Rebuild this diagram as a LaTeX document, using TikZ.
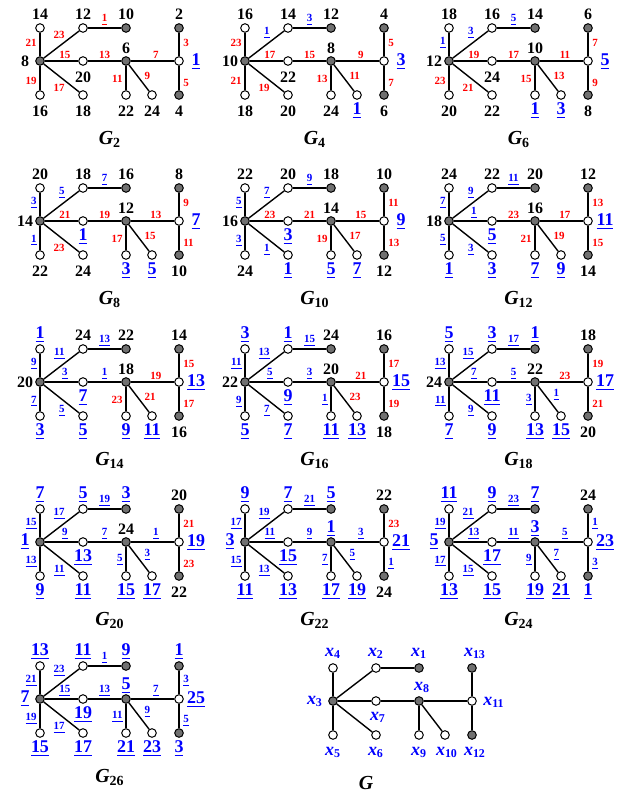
\documentclass[tikz,border=0pt]{standalone}
\usepackage{fontspec}
\setmainfont{Liberation Serif}
\usetikzlibrary{positioning}
\definecolor{lblue}{RGB}{0,0,255}
\definecolor{lred}{RGB}{255,0,0}
\definecolor{vgray}{RGB}{112,112,112}
\tikzset{
  wv/.style={circle, draw=black, fill=white, line width=0.5bp, inner sep=0pt, minimum size=4.3bp},
  gv/.style={wv, fill=vgray},
  ed/.style={line width=0.7bp},
  vl/.style={font=\fontsize{8}{8}\selectfont\bfseries, inner sep=0.6pt},
  el/.style={font=\fontsize{5.5}{5.5}\selectfont\bfseries, inner sep=0.8pt},
  eL/.style={anchor=east, xshift=-0.6pt},
  eR/.style={anchor=west, xshift=1pt},
  eA/.style={anchor=south},
  eAL/.style={anchor=south east},
  eAR/.style={anchor=south west},
  eBL/.style={anchor=north east},
  ttl/.style={font=\fontsize{10}{10}\selectfont\bfseries\itshape},
}
% odd vertex numbers blue and underlined
\newcommand{\vlnum}[1]{\ifodd#1\relax\textcolor{lblue}{\fontsize{9}{9}\selectfont\underline{#1}}\else#1\fi}
% edge numbers below k are underlined
\newcommand{\elnum}[2]{\ifnum#1<#2\relax
  \ifnum#2>2\relax\textcolor{lblue}{\underline{#1}}\else\textcolor{lred}{\underline{#1}}\fi
  \else\textcolor{lred}{#1}\fi}
\newcommand{\glab}[1]{\textcolor{lblue}{\fontsize{9}{9}\selectfont\bfseries\itshape x\textsubscript{\upshape#1}}}
% one labelling G_k, #1 = k, (#2,#3) = position of x3
\newcommand{\gpanel}[3]{%
  \begin{scope}[shift={(#2,#3)}]
    \foreach \v/\px/\py/\b/\st/\lx/\ly in {1/86/-33/10/gv/0/-14, 2/43/-33/12/wv/0/-14,
        3/0/0/8/gv/-15/0, 4/0/-33/14/wv/0/-14, 5/0/34/16/wv/0/16, 6/43/34/18/wv/0/16,
        7/43/0/20/wv/0/16, 8/86/0/6/gv/0/-13, 9/86/34/22/wv/0/16, 10/112/34/24/wv/0/16,
        11/139/0/1/wv/17/1, 12/139/34/4/gv/0/16, 13/139/-33/2/gv/0/-14}{
      \pgfmathtruncatemacro\val{mod(\b+#1-3,25)+1}
      \node[\st] (g#1-\v) at (\px,\py) {};
      \node[vl] (n#1-\v) at ([shift={(\lx,\ly)}]g#1-\v) {\vlnum{\val}};
    }
    \foreach \a/\c/\b/\ps/\sd in {3/4/21/0.58/eL, 3/2/23/0.65/eAL, 2/1/1/0.5/eA,
        3/7/15/0.6/eA, 7/8/13/0.5/eA, 3/5/19/0.6/eL, 3/6/17/0.65/eBL, 8/9/11/0.55/eL,
        8/10/9/0.66/eAR, 8/11/7/0.58/eA, 11/13/3/0.56/eR, 11/12/5/0.69/eR}{
      \pgfmathtruncatemacro\ev{mod(\b+#1-3,24)+1}
      \draw[ed] (g#1-\a) -- node[el, pos=\ps, \sd] (e#1-\a-\c) {\elnum{\ev}{#1}} (g#1-\c);
    }
    \node[ttl] (t#1) at (70,78) {G\textsubscript{\upshape#1}};
  \end{scope}}

\begin{document}
\begin{tikzpicture}[x=0.5bp, y=-0.5bp]
  \useasboundingbox (0,0) rectangle (628,802);
  \gpanel{2}{40}{61}
  \gpanel{4}{245}{61}
  \gpanel{6}{449}{61}
  \gpanel{8}{40}{221}
  \gpanel{10}{245}{221}
  \gpanel{12}{449}{221}
  \gpanel{14}{40}{382}
  \gpanel{16}{245}{382}
  \gpanel{18}{449}{382}
  \gpanel{20}{40}{542}
  \gpanel{22}{245}{542}
  \gpanel{24}{449}{542}
  \gpanel{26}{40}{699}
  % the graph G itself
  \begin{scope}[shift={(333,701)}]
    \foreach \v/\px/\py/\st/\lx/\ly in {1/86/-33/gv/0/-15, 2/43/-33/wv/0/-15,
        3/0/0/gv/-18/0, 4/0/-33/wv/0/-15, 5/0/34/wv/0/17, 6/43/34/wv/0/17,
        7/43/0/wv/2/16, 8/86/0/gv/3/-14, 9/86/34/wv/0/17, 10/112/34/wv/2/17,
        11/139/0/wv/22/1, 12/139/34/gv/3/17, 13/139/-33/gv/3/-15}{
      \node[\st] (x\v) at (\px,\py) {};
      \node (nx\v) at ([shift={(\lx,\ly)}]x\v) {\glab{\v}};
    }
    \foreach \a/\c in {3/4, 3/2, 2/1, 3/7, 7/8, 3/5, 3/6, 8/9, 8/10, 8/11, 11/13, 11/12}
      \draw[ed] (x\a) -- (x\c);
    \node[ttl] (tg) at (33,82) {G};
  \end{scope}
\end{tikzpicture}
\end{document}
